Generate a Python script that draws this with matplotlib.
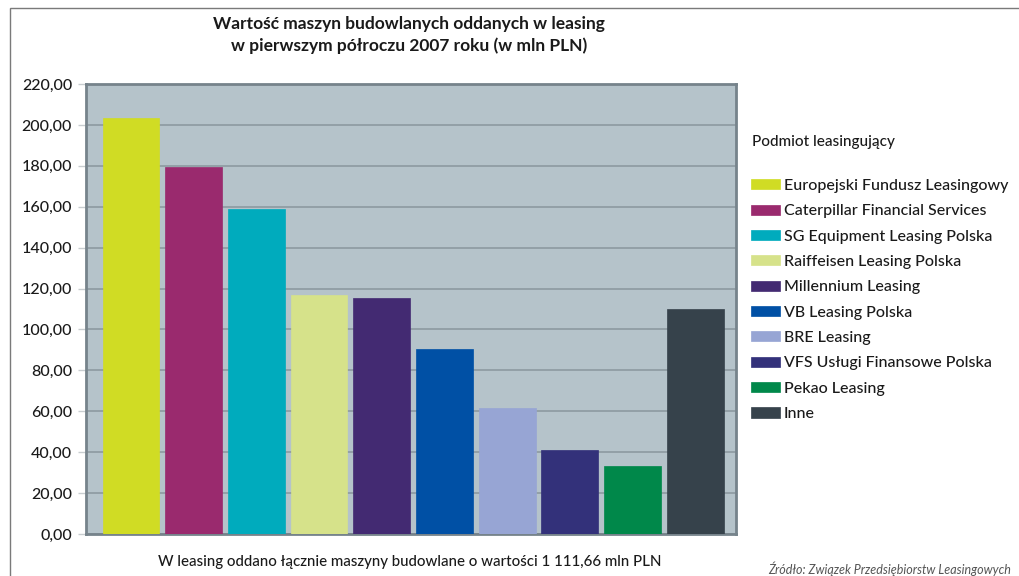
import matplotlib
matplotlib.use('Agg')
import matplotlib.pyplot as plt
from matplotlib.patches import Rectangle
from matplotlib.ticker import FuncFormatter

# data
companies = ['Europejski Fundusz Leasingowy', 'Caterpillar Financial Services',
             'SG Equipment Leasing Polska', 'Raiffeisen Leasing Polska',
             'Millennium Leasing', 'VB Leasing Polska', 'BRE Leasing',
             'VFS Usługi Finansowe Polska', 'Pekao Leasing', 'Inne']
values = [203.4, 179.6, 158.9, 116.8, 115.3, 90.5, 61.8, 41.0, 33.4, 110.0]
colors = ['#d0dc24', '#9a2a6e', '#00abbd', '#d6e28a', '#432a72',
          '#0050a5', '#97a5d4', '#33317a', '#00884a', '#36424b']
yticks = list(range(0, 221, 20))

title = 'Wartość maszyn budowlanych oddanych w leasing\nw pierwszym półroczu 2007 roku (w mln PLN)'
footer = 'W leasing oddano łącznie maszyny budowlane o wartości 1 111,66 mln PLN'
source = 'Źródło: Związek Przedsiębiorstw Leasingowych'

plt.rcParams['font.family'] = ['Lato', 'DejaVu Sans']
plt.rcParams['font.weight'] = 'medium'

fig = plt.figure(figsize=(10.2, 5.76), dpi=100)
fig.patch.set_facecolor('white')
ax = fig.add_axes([86 / 1020, 1 - 534 / 576, 650 / 1020, 450 / 576])

# outer frame of the graphic
fig.add_artist(Rectangle((10 / 1020, -0.05), 1.1, 1 - 8 / 576 + 0.05,
                         transform=fig.transFigure, fill=False,
                         edgecolor='#7a7a7a', lw=1))

ax.set_facecolor('#b5c3ca')
x = range(len(values))
bars = ax.bar(x, values, width=0.905, color=colors, zorder=3,
              edgecolor=colors, linewidth=0.5)
for b, c in zip(bars, companies):
    b.set_label(c)

ax.set_ylim(0, 220)
ax.set_xlim(-0.718, 9.65)
ax.set_yticks(yticks)
ax.yaxis.set_major_formatter(FuncFormatter(lambda v, p: f'{v:.2f}'.replace('.', ',')))
ax.set_xticks([])
ax.grid(axis='y', color='#8d9aa1', lw=1.2, zorder=1)
ax.tick_params(axis='y', length=6, width=1, color='#c8cdd0', pad=4,
               labelsize=11.5, labelcolor='#1a1a1a')
for s in ax.spines.values():
    s.set_color('#76838b')
    s.set_linewidth(2)

fig.text(409 / 1020, 1 - 35 / 576, title, ha='center', va='center',
         fontsize=12.5, fontweight='bold', color='#1a1a1a', linespacing=1.45)

fig.text(752 / 1020, 1 - 142 / 576, 'Podmiot leasingujący', ha='left',
         va='center', fontsize=11, color='#1a1a1a')
ax.legend(handles=list(bars), loc='upper left',
          bbox_to_anchor=(751 / 1020, 1 - 179 / 576),
          bbox_transform=fig.transFigure, frameon=False, fontsize=11.5,
          handlelength=1.8, handleheight=0.6, handletextpad=0.25,
          labelspacing=0.71, borderaxespad=0, borderpad=0,
          labelcolor='#1a1a1a')

fig.text(410 / 1020, 1 - 562 / 576, footer, ha='center', va='center',
         fontsize=10.8, color='#1a1a1a')
fig.text(768 / 1020, 1 - 569 / 576, source, ha='left', va='center',
         fontsize=9, style='italic', fontweight='normal', color='#555555')

fig.savefig('out.png', dpi=100)
